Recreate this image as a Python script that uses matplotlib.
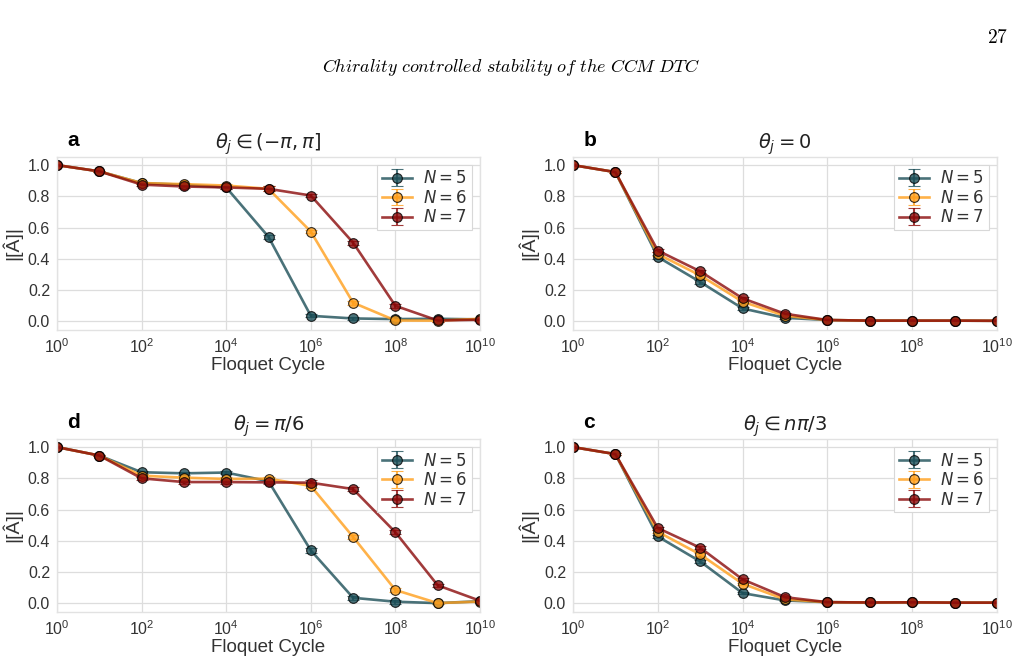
import numpy as np
import matplotlib
matplotlib.use("Agg")
import matplotlib.pyplot as plt
from matplotlib.ticker import NullLocator

plt.rcParams['font.family'] = ['Liberation Sans', 'DejaVu Sans']
plt.rcParams['mathtext.fontset'] = 'dejavusans'

cycles = [1e0, 1e1, 1e2, 1e3, 1e4, 1e5, 1e6, 1e7, 1e8, 1e9, 1e10]
labels = ['$N = 5$', '$N = 6$', '$N = 7$']

# panel a : theta_j in (-pi, pi]
a_n5 = [1.0, 0.96, 0.885, 0.874, 0.857, 0.540, 0.034, 0.017, 0.013, 0.015, 0.011]
a_n6 = [1.0, 0.96, 0.885, 0.878, 0.869, 0.848, 0.574, 0.118, 0.004, 0.003, 0.015]
a_n7 = [1.0, 0.96, 0.875, 0.863, 0.857, 0.848, 0.805, 0.503, 0.098, 0.004, 0.009]
a_err = [0.0, 0.005, 0.008, 0.008, 0.008, 0.015, 0.010, 0.012, 0.012, 0.008, 0.006]

# panel b : theta_j = 0
b_n5 = [1.0, 0.955, 0.411, 0.251, 0.081, 0.021, 0.007, 0.003, 0.003, 0.003, 0.002]
b_n6 = [1.0, 0.955, 0.430, 0.293, 0.124, 0.034, 0.007, 0.003, 0.003, 0.003, 0.002]
b_n7 = [1.0, 0.955, 0.452, 0.319, 0.146, 0.047, 0.007, 0.003, 0.003, 0.003, 0.002]
b_err = [0.0, 0.005, 0.010, 0.010, 0.008, 0.005, 0.003, 0.002, 0.002, 0.002, 0.002]

# panel d : theta_j = pi/6
d_n5 = [1.0, 0.946, 0.839, 0.832, 0.837, 0.781, 0.338, 0.034, 0.009, 0.000, 0.012]
d_n6 = [1.0, 0.946, 0.817, 0.804, 0.796, 0.798, 0.751, 0.424, 0.084, 0.000, 0.010]
d_n7 = [1.0, 0.946, 0.800, 0.776, 0.776, 0.774, 0.772, 0.731, 0.454, 0.114, 0.015]
d_err = [0.0, 0.005, 0.010, 0.010, 0.010, 0.012, 0.015, 0.012, 0.012, 0.008, 0.005]

# panel c : theta_j in n pi/3
c_n5 = [1.0, 0.955, 0.427, 0.267, 0.064, 0.017, 0.006, 0.004, 0.005, 0.003, 0.003]
c_n6 = [1.0, 0.955, 0.457, 0.312, 0.124, 0.024, 0.006, 0.004, 0.005, 0.003, 0.003]
c_n7 = [1.0, 0.955, 0.481, 0.355, 0.152, 0.038, 0.006, 0.004, 0.005, 0.003, 0.003]
c_err = [0.0, 0.005, 0.010, 0.010, 0.008, 0.005, 0.003, 0.002, 0.002, 0.002, 0.002]

colors = ['#1d4f58', '#ff9f1c', '#8a0a0a']

panels = [
    ('a', r'$\theta_j \in (-\pi, \pi]$', [a_n5, a_n6, a_n7], a_err),
    ('b', r'$\theta_j = 0$', [b_n5, b_n6, b_n7], b_err),
    ('d', r'$\theta_j = \pi/6$', [d_n5, d_n6, d_n7], d_err),
    ('c', r'$\theta_j \in n\pi/3$', [c_n5, c_n6, c_n7], c_err),
]

W, H = 1023, 661
fig = plt.figure(figsize=(W / 100, H / 100), dpi=100)

def rect(l, r, t, b):
    return [l / W, 1 - b / H, (r - l) / W, (b - t) / H]

rects = [rect(57, 480, 157, 330), rect(573, 997, 157, 330),
         rect(57, 480, 439, 612), rect(573, 997, 439, 612)]

grid_c = '#dddddd'
for (letter, title, series, err), rc in zip(panels, rects):
    ax = fig.add_axes(rc)
    ax.set_facecolor('white')
    for y, col, lab in zip(series, colors, labels):
        ax.errorbar(cycles, y, yerr=err, color=col, alpha=0.8, lw=1.9,
                    marker='o', ms=7, mfc=col, mec='black', mew=0.8,
                    capsize=4, elinewidth=1.5, label=lab)
    ax.set_xscale('log')
    ax.set_xlim(1, 1e10)
    ax.set_ylim(-0.057, 1.052)
    ax.set_xticks([1e0, 1e2, 1e4, 1e6, 1e8, 1e10])
    ax.xaxis.set_minor_locator(NullLocator())
    ax.set_yticks([0.0, 0.2, 0.4, 0.6, 0.8, 1.0])
    ax.grid(True, color=grid_c, lw=0.9)
    ax.set_axisbelow(True)
    for s in ax.spines.values():
        s.set_color('#e2e2e2')
        s.set_linewidth(1.0)
    ax.tick_params(axis='both', length=0, labelsize=11.5, colors='#333333', pad=5)
    ax.set_xlabel('Floquet Cycle', fontsize=13.5, color='#333333', labelpad=1)
    ax.set_ylabel('|[Â]|', fontsize=14, color='#333333', labelpad=4)
    ax.set_title(title, fontsize=14, color='#222222', pad=6)
    ax.text(0.025, 1.04, letter, transform=ax.transAxes, fontsize=15,
            fontweight='bold', color='black', va='bottom', ha='left')
    leg = ax.legend(loc='upper right', fontsize=12, frameon=True,
                    fancybox=False, framealpha=1, edgecolor='#d8d8d8',
                    borderpad=0.25, handlelength=1.8, labelspacing=0.15,
                    handletextpad=0.7, borderaxespad=0.5)
    leg.get_frame().set_linewidth(0.8)
    for t in leg.get_texts():
        t.set_color('#333333')

fig.text(1008 / W, 1 - 38 / H, r'$\mathrm{27}$', ha='right', va='center',
         fontsize=14, math_fontfamily='cm', color='black')
fig.text(511 / W, 1 - 67 / H,
         r'$\mathit{Chirality\ controlled\ stability\ of\ the\ CCM\ DTC}$',
         ha='center', va='center', fontsize=13, math_fontfamily='cm',
         color='black')

fig.savefig('out.png', dpi=100, facecolor='white')
